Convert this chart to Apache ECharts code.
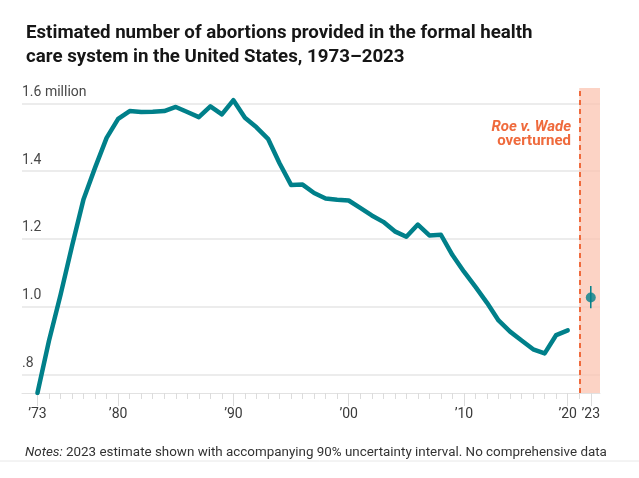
<!DOCTYPE html>
<html><head><meta charset="utf-8">
<script src="https://cdn.jsdelivr.net/npm/echarts@6/dist/echarts.min.js"></script>
<style>html,body{margin:0;padding:0;background:#fff}#c{width:639px;height:478px}</style>
</head><body><div id="c"></div>
<script>
// Years with an estimate (no 2018 estimate on the source's axis)
const years = [1973,1974,1975,1976,1977,1978,1979,1980,1981,1982,1983,1984,1985,1986,1987,1988,1989,
  1990,1991,1992,1993,1994,1995,1996,1997,1998,1999,2000,2001,2002,2003,2004,2005,2006,2007,2008,2009,
  2010,2011,2012,2013,2014,2015,2016,2017,2019,2020];
// Abortions, millions
const abortions = [0.745,0.899,1.034,1.179,1.317,1.410,1.498,1.554,1.577,1.574,1.575,1.577,1.589,1.574,1.559,1.591,1.567,
  1.609,1.557,1.529,1.495,1.423,1.359,1.360,1.335,1.319,1.315,1.313,1.291,1.269,1.250,1.222,1.206,1.242,1.210,1.212,1.152,
  1.103,1.058,1.011,0.959,0.926,0.900,0.874,0.862,0.916,0.930];
const dobbsYear = 2022;
const estimateYear = 2023;
const estimate = [1.027];
const estimateInterval = [0.995, 1.061];
const axisSlots = years.concat([dobbsYear, estimateYear]);
const yTicks = [0.8, 1.0, 1.2, 1.4, 1.6];
const yTickLabels = ['.8', '1.0', '1.2', '1.4', '1.6 million'];
const xTickYears = [1973, 1980, 1990, 2000, 2010, 2020, 2023];
const xTickLabels = ['’73', '’80', '’90', '’00', '’10', '’20', '’23'];

const pos = y => axisSlots.indexOf(y);
const teal = '#00808a';
const orange = '#ef6a3c';
const xMin = -1.34, xMax = 48.8;
const font = 'Roboto';

const lineData = years.map((y, i) => [pos(y), abortions[i]]);
const allTicks = axisSlots.map(pos);
const majorTicks = xTickYears.map(pos);
const xLabelMap = {};
xTickYears.forEach((y, i) => { xLabelMap[pos(y)] = xTickLabels[i]; });
const yLabelMap = {};
yTicks.forEach((v, i) => { yLabelMap[v.toFixed(1)] = yTickLabels[i]; });

const chart = echarts.init(document.getElementById('c'));
chart.setOption({
  animation: false,
  textStyle: { fontFamily: font },
  title: [{
    text: 'Estimated number of abortions provided in the formal health\ncare system in the United States, 1973–2023',
    left: 21, top: 16,
    textStyle: { fontFamily: font, fontWeight: 'bold', fontSize: 18.7, lineHeight: 24, color: '#161616' }
  }, {
    text: '{i|Notes:} 2023 estimate shown with accompanying 90% uncertainty interval. No comprehensive data',
    left: 20, top: 441,
    textStyle: { fontFamily: font, fontWeight: 'normal', fontSize: 13.4, color: '#333',
      rich: { i: { fontStyle: 'italic', fontWeight: 'normal', fontFamily: font, fontSize: 13.4, color: '#333' } } }
  }],
  grid: { left: 22, right: 39, top: 88, bottom: 85 },
  xAxis: [{
    type: 'value', min: xMin, max: xMax, position: 'bottom',
    axisLine: { show: true, lineStyle: { color: '#e2e2e2', width: 1 } },
    axisTick: { show: true, customValues: allTicks, length: 6, lineStyle: { color: '#dcdcdc' } },
    axisLabel: { show: false },
    splitLine: { show: false }
  }, {
    type: 'value', min: xMin, max: xMax, position: 'bottom', offset: 0,
    axisLine: { show: false },
    axisTick: { show: true, customValues: majorTicks, length: 13, lineStyle: { color: '#dcdcdc' } },
    axisLabel: { show: true, customValues: majorTicks, margin: 14, fontSize: 14, color: '#3a3a3a', fontFamily: font,
      formatter: v => xLabelMap[v] || '' },
    splitLine: { show: false }
  }],
  yAxis: {
    type: 'value', min: 0.745, max: 1.645,
    axisLine: { show: false },
    axisTick: { show: false, customValues: yTicks },
    axisLabel: { show: true, customValues: yTicks, inside: true, margin: 0, align: 'left', verticalAlign: 'bottom',
      padding: [0, 0, 4, 0], fontSize: 14, color: '#484848', fontFamily: font,
      formatter: v => yLabelMap[Number(v).toFixed(1)] || '' },
    splitLine: { show: true, lineStyle: { color: '#e6e6e6', width: 1.5 } }
  },
  graphic: [{
    type: 'text', right: 68, top: 120,
    style: {
      text: '{a|Roe v. Wade}\n{b|overturned}', align: 'right',
      rich: {
        a: { fontFamily: font, fontStyle: 'italic', fontWeight: 'bold', fontSize: 15, fill: orange, color: orange, lineHeight: 14, align: 'right' },
        b: { fontFamily: font, fontWeight: 'bold', fontSize: 15, fill: orange, color: orange, lineHeight: 14, align: 'right' }
      }
    }
  }, {
    type: 'line', shape: { x1: 0, y1: 461, x2: 639, y2: 461 }, style: { stroke: '#e8e8e8', lineWidth: 1 }
  }],
  series: [{
    type: 'line', xAxisIndex: 0, data: lineData, symbol: 'none',
    lineStyle: { color: teal, width: 4.5, join: 'round', cap: 'round' },
    markArea: { silent: true, itemStyle: { color: 'rgba(251,196,177,0.75)' },
      data: [[{ xAxis: pos(dobbsYear) }, { xAxis: xMax }]] },
    markLine: { silent: true, symbol: 'none', label: { show: false },
      lineStyle: { color: orange, width: 2, type: [5, 4] },
      data: [{ xAxis: pos(dobbsYear) }] }
  }, {
    type: 'line', xAxisIndex: 0, symbol: 'none',
    data: estimateInterval.map(v => [pos(estimateYear), v]),
    lineStyle: { color: teal, width: 1.5 }
  }, {
    type: 'scatter', xAxisIndex: 0, symbolSize: 10,
    data: estimate.map(v => [pos(estimateYear), v]),
    itemStyle: { color: teal }
  }]
});
</script></body></html>
